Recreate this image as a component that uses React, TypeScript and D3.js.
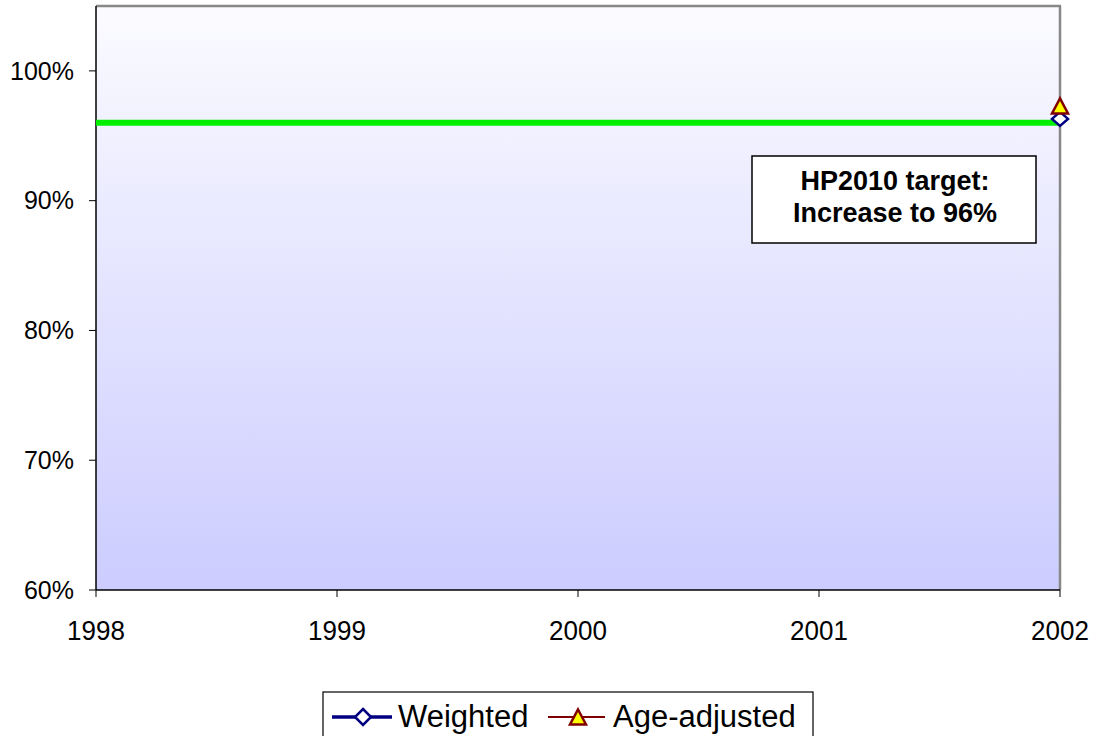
import React from "react";
import * as d3 from "d3";

const years = [1998, 1999, 2000, 2001, 2002];
const weighted = [{ year: 2002, value: 0.963 }];
const ageAdjusted = [{ year: 2002, value: 0.973 }];
const target = 0.96;
const yTicks = [0.6, 0.7, 0.8, 0.9, 1.0];
const seriesNames = ["Weighted", "Age-adjusted"];

export default function App() {
  const W = 1097, H = 736;
  const left = 96, right = 1060, top = 6, bottom = 590;
  const x = d3.scaleLinear().domain([1998, 2002]).range([left, right]);
  const y = d3.scaleLinear().domain([0.6, 1.05]).range([bottom, top]);
  const font = "Liberation Sans, Arial, sans-serif";
  const line = d3.line<number>().x((d) => d).y(() => y(target));
  const diamond = (cx: number, cy: number, rx: number, ry: number) =>
    `M${cx},${cy - ry}L${cx + rx},${cy}L${cx},${cy + ry}L${cx - rx},${cy}Z`;
  const tri = (cx: number, cy: number, rx: number, h: number) =>
    `M${cx},${cy - h / 2}L${cx + rx},${cy + h / 2}L${cx - rx},${cy + h / 2}Z`;
  return (
    <svg width={W} height={H} style={{ position: "absolute", left: 0, top: 0 }}>
      <defs>
        <linearGradient id="bg" x1="0" y1="0" x2="0" y2="1">
          <stop offset="0" stopColor="#fbfbff" />
          <stop offset="1" stopColor="#ccccff" />
        </linearGradient>
      </defs>
      <rect x={0} y={0} width={W} height={H} fill="white" />
      <rect x={left} y={top} width={right - left} height={bottom - top} fill="url(#bg)" />
      <line x1={left} y1={top} x2={right + 1} y2={top} stroke="#888" strokeWidth={2.5} />
      <line x1={right} y1={top} x2={right} y2={bottom} stroke="#888" strokeWidth={2.5} />
      <line x1={left} y1={top} x2={left} y2={bottom} stroke="#000" strokeWidth={1.5} />
      <line x1={left} y1={bottom} x2={right} y2={bottom} stroke="#000" strokeWidth={1.5} />
      {yTicks.map((t) => (
        <g key={t}>
          <line x1={left - 7} x2={left} y1={y(t)} y2={y(t)} stroke="#000" />
          <text x={74} y={y(t)} dy="0.35em" textAnchor="end" fontFamily={font} fontSize={25}>
            {d3.format(".0%")(t)}
          </text>
        </g>
      ))}
      {years.map((yr) => (
        <g key={yr}>
          <line x1={x(yr)} x2={x(yr)} y1={bottom} y2={bottom + 7} stroke="#000" />
          <text x={x(yr)} y={630} dy="0.35em" textAnchor="middle" fontFamily={font} fontSize={26}
            transform={`translate(0,630) scale(1,1.06) translate(0,-630)`}>
            {yr}
          </text>
        </g>
      ))}
      <path d={line([left, right]) || ""} stroke="#00ee00" strokeWidth={6} fill="none" />
      {weighted.map((d) => (
        <path key="w" d={diamond(x(d.year), y(d.value), 8, 7)} fill="white" stroke="#000080" strokeWidth={2.5} />
      ))}
      {ageAdjusted.map((d) => (
        <path key="a" d={tri(x(d.year), y(d.value), 8, 15)} fill="#ffff00" stroke="#800000" strokeWidth={2.5} />
      ))}
      <rect x={752} y={156} width={284} height={87} fill="white" stroke="#000" strokeWidth={1.5} />
      <text x={895} y={181} dy="0.35em" textAnchor="middle" fontFamily={font} fontSize={27} fontWeight="bold">
        HP2010 target:
      </text>
      <text x={895} y={213} dy="0.35em" textAnchor="middle" fontFamily={font} fontSize={27} fontWeight="bold">
        Increase to 96%
      </text>
      <rect x={323} y={692} width={490} height={60} fill="white" stroke="#000" strokeWidth={1.2} />
      <line x1={332} x2={392} y1={717} y2={717} stroke="#000080" strokeWidth={3.5} />
      <path d={diamond(363, 717, 8, 8)} fill="white" stroke="#000080" strokeWidth={2.5} />
      <text x={398} y={716} dy="0.35em" fontFamily={font} fontSize={31}>{seriesNames[0]}</text>
      <line x1={548} x2={605} y1={717} y2={717} stroke="#800000" strokeWidth={2} />
      <path d={tri(578, 717, 8, 15)} fill="#ffff00" stroke="#800000" strokeWidth={2.5} />
      <text x={613} y={716} dy="0.35em" fontFamily={font} fontSize={31}>{seriesNames[1]}</text>
    </svg>
  );
}
